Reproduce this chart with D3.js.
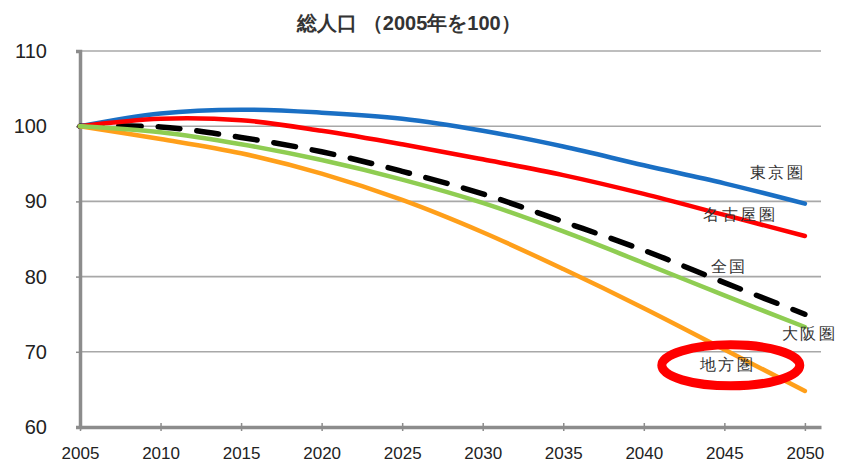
<!DOCTYPE html>
<html>
<head>
<meta charset="utf-8">
<script src="https://cdn.jsdelivr.net/npm/d3@7"></script>
<style>
  body { margin: 0; background: #fff; }
  text { font-family: "Liberation Sans", Arial, sans-serif; }
</style>
</head>
<body>
<div id="chart"></div>
<script>
// values, 2005 = 100
const years = [2005, 2010, 2015, 2020, 2025, 2030, 2035, 2040, 2045, 2050];
const tokyo   = [100, 101.7, 102.2, 101.8, 101.0, 99.4, 97.3, 94.8, 92.4, 89.7];
const nagoya  = [100, 101.0, 100.8, 99.4, 97.6, 95.6, 93.5, 91.0, 88.2, 85.4];
const zenkoku = [100, 99.9, 98.5, 96.6, 94.0, 91.0, 87.3, 83.5, 79.2, 75.0];
const osaka   = [100, 99.2, 97.6, 95.5, 92.9, 89.8, 86.0, 81.8, 77.5, 73.3];
const chiho   = [100, 98.3, 96.4, 93.7, 90.2, 85.9, 81.0, 75.8, 70.3, 64.8];
const yTicks = [60, 70, 80, 90, 100, 110];
const title = "総人口 （2005年を100）";

const width = 841, height = 466;
const svg = d3.select("#chart")
  .append("svg")
  .attr("width", width)
  .attr("height", height);

const x = d3.scaleLinear()
  .domain([2005, 2051])
  .range([80, 821]);

const y = d3.scaleLinear()
  .domain([60, 110])
  .range([427, 51]);

// gridlines
svg.append("g")
  .selectAll("line")
  .data(yTicks.slice(1))
  .enter()
  .append("line")
  .attr("x1", x(2005))
  .attr("x2", x(2051))
  .attr("y1", d => y(d))
  .attr("y2", d => y(d))
  .attr("stroke", "#a8a8a8")
  .attr("stroke-width", 1.6);

// y axis
const yAxis = svg.append("g")
  .attr("transform", `translate(${x(2005)},0)`)
  .call(d3.axisLeft(y).tickValues(yTicks).tickSize(4).tickPadding(29));
yAxis.select(".domain").attr("stroke", "#8c8c8c").attr("stroke-width", 3.5);
yAxis.selectAll(".tick line").attr("stroke", "#8c8c8c").attr("stroke-width", 1.5);
yAxis.selectAll(".tick text")
  .attr("font-size", 20)
  .attr("fill", "#222")
  .attr("font-family", "'Liberation Sans', Arial, sans-serif");

// x axis
const xAxis = svg.append("g")
  .attr("transform", `translate(0,${y(60)})`)
  .call(d3.axisBottom(x).tickValues(years).tickFormat(d3.format("d")).tickSizeInner(4).tickSizeOuter(0).tickPadding(16));
xAxis.select(".domain").attr("stroke", "#8c8c8c").attr("stroke-width", 3.5);
xAxis.selectAll(".tick line")
  .attr("y1", -4)
  .attr("stroke", "#8c8c8c").attr("stroke-width", 1.5);
xAxis.selectAll(".tick text")
  .attr("font-size", 17)
  .attr("fill", "#222")
  .attr("font-family", "'Liberation Sans Narrow', 'Liberation Sans', Arial, sans-serif");

// lines
const series = [
  { name: "全国", values: zenkoku, color: "#000", dash: "22,17" },
  { name: "東京圏", values: tokyo, color: "#1a6fc4" },
  { name: "名古屋圏", values: nagoya, color: "#ff0000" },
  { name: "地方圏", values: chiho, color: "#ff9f1a" },
  { name: "大阪圏", values: osaka, color: "#8fcd52" }
];

const line = d3.line()
  .x((d, i) => x(years[i]))
  .y(d => y(d))
  .curve(d3.curveCatmullRom.alpha(0.5));

svg.append("g")
  .selectAll("path")
  .data(series)
  .enter()
  .append("path")
  .attr("d", d => line(d.values))
  .attr("fill", "none")
  .attr("stroke", d => d.color)
  .attr("stroke-width", d => d.dash ? 5.5 : 4.5)
  .attr("stroke-linecap", "round")
  .attr("stroke-dasharray", d => d.dash || null);

// series labels
const labels = [
  { text: "東京圏", year: 2048.3, value: 93.8 },
  { text: "名古屋圏", year: 2046.0, value: 88.3 },
  { text: "全国", year: 2045.3, value: 81.3 },
  { text: "大阪圏", year: 2050.3, value: 72.4 },
  { text: "地方圏", year: 2045.2, value: 68.3 }
];
svg.append("g")
  .selectAll("text")
  .data(labels)
  .enter()
  .append("text")
  .attr("x", d => x(d.year))
  .attr("y", d => y(d.value))
  .attr("text-anchor", "middle")
  .attr("dominant-baseline", "central")
  .attr("font-family", "'Noto Sans CJK JP', sans-serif")
  .attr("font-size", 16)
  .attr("letter-spacing", 2.5)
  .attr("fill", "#333")
  .text(d => d.text);

// red highlight ring round 地方圏
svg.append("ellipse")
  .attr("cx", x(2045.4))
  .attr("cy", y(68.2))
  .attr("rx", 69)
  .attr("ry", 20.5)
  .attr("fill", "none")
  .attr("stroke", "#ff0000")
  .attr("stroke-width", 9);

// title
svg.append("text")
  .attr("x", 409)
  .attr("y", 23)
  .attr("text-anchor", "middle")
  .attr("dominant-baseline", "central")
  .attr("font-family", "'Noto Sans CJK JP', sans-serif")
  .attr("font-weight", "bold")
  .attr("font-size", 20)
  .attr("fill", "#333")
  .text(title);
</script>
</body>
</html>
